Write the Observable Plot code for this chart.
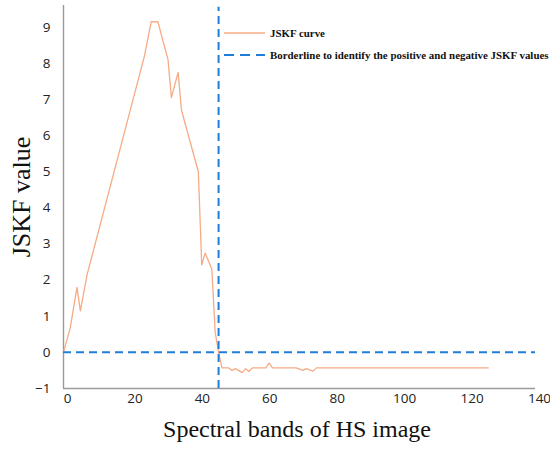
<!DOCTYPE html>
<html>
<head>
<meta charset="utf-8">
<script src="https://cdn.jsdelivr.net/npm/d3@7"></script>
<script src="https://cdn.jsdelivr.net/npm/@observablehq/plot@0.6"></script>
<style>
  html, body { margin: 0; padding: 0; background: #fff; }
  #chart { width: 550px; height: 450px; }
</style>
</head>
<body>
<div id="chart"></div>
<script>
// JSKF curve (spectral band index, JSKF value)
const bands = [0, 2, 4, 5, 7, 24, 26, 28, 31, 32, 34, 35, 40, 41, 42, 44, 45, 46,
               47, 49, 50, 51, 53, 54, 55, 56, 60, 61, 62, 69, 71, 72, 74, 75, 126];
const jskf  = [0, 0.68, 1.8, 1.15, 2.15, 8.2, 9.15, 9.15, 8.1, 7.05, 7.75, 6.7, 5.0, 2.42, 2.75, 2.3, 0.55, 0,
               -0.43, -0.43, -0.5, -0.45, -0.56, -0.45, -0.53, -0.43, -0.43, -0.3, -0.43, -0.43, -0.5, -0.45, -0.52, -0.43, -0.43];
const borderBand = 46;   // vertical borderline
const borderValue = 0;   // horizontal borderline
const xTicks = [0, 20, 40, 60, 80, 100, 120, 140];
const yTicks = [-1, 0, 1, 2, 3, 4, 5, 6, 7, 8, 9];
const seriesNames = ["JSKF curve", "Borderline to identify the positive and negative JSKF values"];
const xTitle = "Spectral bands of HS image";
const yTitle = "JSKF value";

const curve = bands.map((b, i) => ({band: b, value: jskf[i]}));
const orange = "#f6ab86";
const blue = "#1f7fd8";
const axisGray = "#9a9a9a";

const chart = Plot.plot({
  width: 550,
  height: 450,
  marginLeft: 63,
  marginRight: 15,
  marginTop: 5,
  marginBottom: 62,
  style: {fontFamily: "'Open Sans', sans-serif", background: "#fff"},
  x: {domain: [0, 140]},
  y: {domain: [-1, 9.6]},
  marks: [
    Plot.axisX({ticks: xTicks, tickSize: 0, tickPadding: 5, fontSize: 13.5, label: null, color: "#222", dx: 4}),
    Plot.axisY({ticks: yTicks, tickSize: 0, tickPadding: 13, fontSize: 13.5, label: null, color: "#222"}),
    Plot.ruleX([0], {y1: -1, y2: 9.6, stroke: axisGray, strokeWidth: 1.4}),
    Plot.ruleY([-1], {x1: 0, x2: 140, stroke: axisGray, strokeWidth: 1.4}),
    Plot.line(curve, {x: "band", y: "value", stroke: orange, strokeWidth: 1.3}),
    Plot.ruleY([borderValue], {x1: 0, x2: 140, stroke: blue, strokeWidth: 2, strokeDasharray: "8,5"}),
    Plot.ruleX([borderBand], {y1: -1, y2: 9.55, stroke: blue, strokeWidth: 2, strokeDasharray: "8,5"})
  ]
});

document.getElementById("chart").appendChild(chart);

const svg = d3.select(chart);
// Axis titles
svg.append("text")
  .attr("x", 297).attr("y", 437)
  .attr("text-anchor", "middle")
  .attr("font-family", "'Liberation Serif', 'Times New Roman', serif")
  .attr("font-size", 24)
  .attr("fill", "#111")
  .text(xTitle);
svg.append("text")
  .attr("transform", "translate(30,197) rotate(-90)")
  .attr("text-anchor", "middle")
  .attr("font-family", "'Liberation Serif', 'Times New Roman', serif")
  .attr("font-size", 26)
  .attr("fill", "#111")
  .text(yTitle);

// Legend
const lg = svg.append("g").attr("font-family", "'Liberation Serif', 'Times New Roman', serif")
  .attr("font-size", 10.9).attr("font-weight", "bold").attr("fill", "#111")
  .attr("text-anchor", "start");
lg.append("line").attr("x1", 224).attr("x2", 265).attr("y1", 33).attr("y2", 33)
  .attr("stroke", orange).attr("stroke-width", 1.5);
lg.append("text").attr("x", 270).attr("y", 37).text(seriesNames[0]);
lg.append("line").attr("x1", 224).attr("x2", 265).attr("y1", 55).attr("y2", 55)
  .attr("stroke", blue).attr("stroke-width", 2).attr("stroke-dasharray", "10,6");
lg.append("text").attr("x", 270).attr("y", 59).text(seriesNames[1]);
</script>
</body>
</html>
